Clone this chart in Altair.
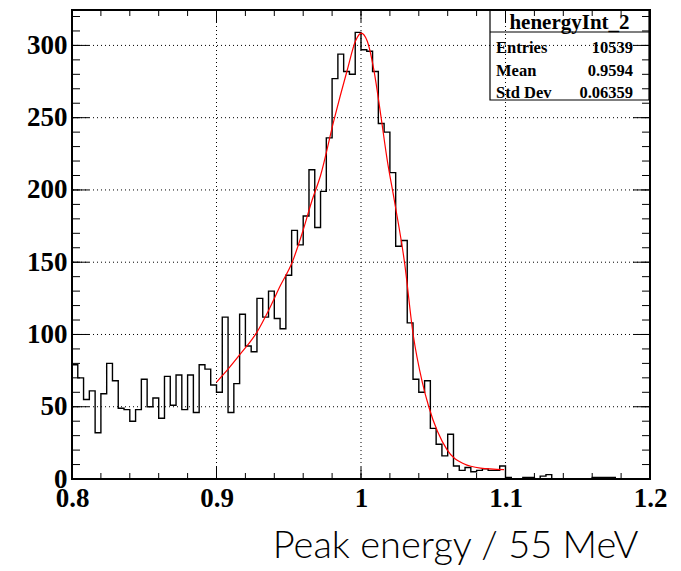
import altair as alt
import pandas as pd
import numpy as np

# ---- data ----
x_min, x_max, n_bins = 0.8, 1.2, 100
counts = [
    79, 70, 55, 61, 32, 59, 80, 68, 49, 48,
    40, 48, 69, 50, 56, 42, 71, 51, 72, 48,
    72, 46, 79, 76, 65, 60, 112, 46, 66, 114,
    92, 88, 125, 112, 130, 111, 104, 141, 172, 162,
    182, 214, 174, 199, 236, 277, 294, 282, 280, 309,
    297, 296, 282, 246, 240, 212, 161, 165, 108, 69,
    60, 68, 35, 24, 16, 31, 9, 6, 8, 5,
    6, 7, 6, 6, 9, 1, 0, 0, 1, 1,
    0, 2, 3, 0, 0, 0, 0, 0, 0, 0,
    1, 1, 1, 1, 0, 0, 0, 0, 0, 0,
]
fit_x = [0.9000, 0.9080, 0.9161, 0.9282, 0.9362, 0.9443, 0.9524, 0.9593, 0.9662,
         0.9720, 0.9812, 0.9905, 0.9962, 1.0001, 1.0043, 1.0089, 1.0135, 1.0181,
         1.0232, 1.0301, 1.0361, 1.0424, 1.0469, 1.0597, 1.0711, 1.0827, 1.0990]
fit_y = [67, 76, 86, 102, 117, 134, 150, 170, 193,
         210, 248, 283, 303, 308.5, 303, 283, 253, 221,
         192, 150, 100, 67, 50, 20, 10.5, 7.5, 6.5]
y_max = 324.5
stats_name = "henergyInt_2"
stats_labels = ["Entries", "Mean", "Std Dev"]
stats_values = ["10539", "0.9594", "0.06359"]
x_major = [0.8, 0.9, 1.0, 1.1, 1.2]
x_minor = [round(0.8 + 0.02 * i, 2) for i in range(21)]
y_major = [0, 50, 100, 150, 200, 250, 300]
y_minor = list(range(0, 330, 10))
x_grid = [0.9, 1.0, 1.1]
y_grid = [50, 100, 150, 200, 250, 300]
x_title = "Peak energy / 55 MeV"

# ---- tables ----
edges = np.linspace(x_min, x_max, n_bins + 1)
hx = [x_min] + list(edges[:-1]) + [x_max, x_max]
hy = [0] + counts + [counts[-1], 0]
hist_df = pd.DataFrame({"x": hx, "y": hy, "o": range(len(hx))})
fit_df = pd.DataFrame({"x": fit_x, "y": fit_y})

W, H = 578, 469
xs = alt.Scale(domain=[x_min, x_max], nice=False, zero=False)
ys = alt.Scale(domain=[0, y_max], nice=False, zero=False)

x_axis = alt.Axis(values=x_major, format="~g", ticks=False, domain=False, grid=False,
                  labelFont="Liberation Serif", labelFontWeight="bold", labelFontSize=27,
                  labelColor="black", labelPadding=6, labelFlush=False, labelOverlap=False,
                  labelBound=False,
                  title=x_title, titleFont="Lato", titleFontWeight=300, titleFontSize=38,
                  titleColor="black", titleAlign="right", titleAnchor="end",
                  titleX=566, titleY=78, titleBaseline="alphabetic")
y_axis = alt.Axis(values=y_major, ticks=False, domain=False, grid=False,
                  labelFont="Liberation Serif", labelFontWeight="bold", labelFontSize=27,
                  labelColor="black", labelPadding=5, labelFlush=False, labelOverlap=False,
                  labelBound=False, title=None)

base_x = alt.X("x:Q", scale=xs, axis=x_axis)
base_y = alt.Y("y:Q", scale=ys, axis=y_axis)

grid_dash = [1, 3]
gx = alt.Chart(pd.DataFrame({"x": x_grid})).mark_rule(
    color="black", strokeWidth=1, strokeDash=grid_dash).encode(x=base_x)
gy = alt.Chart(pd.DataFrame({"y": y_grid})).mark_rule(
    color="black", strokeWidth=1, strokeDash=grid_dash).encode(y=base_y)

hist = alt.Chart(hist_df).mark_line(
    interpolate="step-after", color="black", strokeWidth=1.4).encode(
    x=base_x, y=base_y, order="o:Q")

fit = alt.Chart(fit_df).mark_line(
    interpolate="monotone", color="red", strokeWidth=1.2).encode(x=base_x, y=base_y)

def xticks(vals, length):
    d = pd.DataFrame({"x": vals})
    b = alt.Chart(d).mark_rule(color="black", strokeWidth=1).encode(
        x=base_x, y=alt.value(H), y2=alt.value(H - length))
    t = alt.Chart(d).mark_rule(color="black", strokeWidth=1).encode(
        x=base_x, y=alt.value(0), y2=alt.value(length))
    return [b, t]

def yticks(vals, length):
    d = pd.DataFrame({"y": vals})
    l = alt.Chart(d).mark_rule(color="black", strokeWidth=1).encode(
        y=base_y, x=alt.value(0), x2=alt.value(length))
    r = alt.Chart(d).mark_rule(color="black", strokeWidth=1).encode(
        y=base_y, x=alt.value(W), x2=alt.value(W - length))
    return [l, r]

tick_layers = xticks(x_minor, 6) + xticks(x_major, 12) + yticks(y_minor, 8) + yticks(y_major, 17)

one = pd.DataFrame({"a": [0]})
bx0, bx1, by0, by1 = 418, 577, 0, 90
box = alt.Chart(one).mark_rect(fillOpacity=0, stroke="black", strokeWidth=1.2).encode(
    x=alt.value(bx0), x2=alt.value(bx1), y=alt.value(by0), y2=alt.value(by1))
sep = alt.Chart(one).mark_rule(color="black", strokeWidth=1.2).encode(
    x=alt.value(bx0), x2=alt.value(bx1), y=alt.value(22))
title_txt = alt.Chart(pd.DataFrame({"t": [stats_name]})).mark_text(
    font="Liberation Serif", fontWeight="bold", fontSize=21, color="black",
    align="center", baseline="alphabetic").encode(
    text="t:N", x=alt.value((bx0 + bx1) / 2), y=alt.value(18.5))
row_y = [42.5, 65.5, 87.5]
rows = []
for lab, val, ry in zip(stats_labels, stats_values, row_y):
    rows.append(alt.Chart(pd.DataFrame({"t": [lab]})).mark_text(
        font="Liberation Serif", fontWeight="bold", fontSize=16.5, color="black",
        align="left", baseline="alphabetic").encode(
        text="t:N", x=alt.value(424), y=alt.value(ry)))
    rows.append(alt.Chart(pd.DataFrame({"t": [val]})).mark_text(
        font="Liberation Serif", fontWeight="bold", fontSize=16.5, color="black",
        align="right", baseline="alphabetic").encode(
        text="t:N", x=alt.value(561), y=alt.value(ry)))

chart = alt.layer(gx, gy, *tick_layers, hist, fit, box, sep, title_txt, *rows).properties(
    width=W, height=H,
    autosize=alt.AutoSizeParams(type="none"),
    padding={"left": 72, "top": 10, "right": 31, "bottom": 92},
    background="white",
).configure_view(stroke="black", strokeWidth=2)

chart.save("out.html", embed_options={"renderer": "svg", "actions": False})
